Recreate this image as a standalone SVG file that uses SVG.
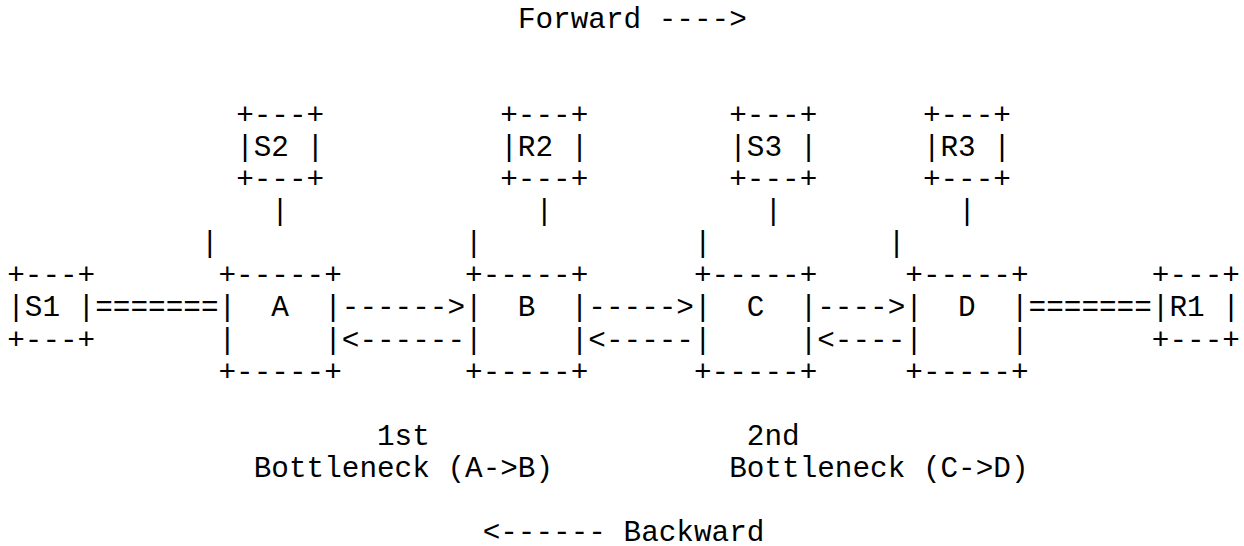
<svg xmlns="http://www.w3.org/2000/svg" width="1244" height="546" viewBox="0 0 1244 546" xml:space="preserve">
<style>
.t{font-family:"Liberation Mono","Courier New",monospace;font-size:29.35px;fill:#000;white-space:pre}
</style>
<rect width="1244" height="546" fill="#fff"/>
<g id="labels">
<text class="t" x="517.89" y="27.5">Forward ----&gt;</text>
<text class="t" x="377.01" y="444.8">1st</text>
<text class="t" x="253.74" y="476.9">Bottleneck (A-&gt;B)</text>
<text class="t" x="746.82" y="444.8">2nd</text>
<text class="t" x="729.21" y="476.9">Bottleneck (C-&gt;D)</text>
<text class="t" x="482.67" y="541.1">&lt;------ Backward</text>
</g>
<g id="S2"><text class="t"><tspan x="236.13" y="123.8">+---+</tspan><tspan x="236.13" y="155.9">|S2 |</tspan><tspan x="236.13" y="188">+---+</tspan></text></g>
<g id="R2"><text class="t"><tspan x="500.28" y="123.8">+---+</tspan><tspan x="500.28" y="155.9">|R2 |</tspan><tspan x="500.28" y="188">+---+</tspan></text></g>
<g id="S3"><text class="t"><tspan x="729.21" y="123.8">+---+</tspan><tspan x="729.21" y="155.9">|S3 |</tspan><tspan x="729.21" y="188">+---+</tspan></text></g>
<g id="R3"><text class="t"><tspan x="922.92" y="123.8">+---+</tspan><tspan x="922.92" y="155.9">|R3 |</tspan><tspan x="922.92" y="188">+---+</tspan></text></g>
<g id="S1"><text class="t"><tspan x="7.2" y="284.3">+---+</tspan><tspan x="7.2" y="316.4">|S1 |</tspan><tspan x="7.2" y="348.5">+---+</tspan></text></g>
<g id="R1"><text class="t"><tspan x="1151.85" y="284.3">+---+</tspan><tspan x="1151.85" y="316.4">|R1 |</tspan><tspan x="1151.85" y="348.5">+---+</tspan></text></g>
<g id="A"><text class="t"><tspan x="218.52" y="284.3">+-----+</tspan><tspan x="218.52" y="316.4">|  A  |</tspan><tspan x="218.52" y="348.5">|     |</tspan><tspan x="218.52" y="380.6">+-----+</tspan></text></g>
<g id="B"><text class="t"><tspan x="465.06" y="284.3">+-----+</tspan><tspan x="465.06" y="316.4">|  B  |</tspan><tspan x="465.06" y="348.5">|     |</tspan><tspan x="465.06" y="380.6">+-----+</tspan></text></g>
<g id="C"><text class="t"><tspan x="693.99" y="284.3">+-----+</tspan><tspan x="693.99" y="316.4">|  C  |</tspan><tspan x="693.99" y="348.5">|     |</tspan><tspan x="693.99" y="380.6">+-----+</tspan></text></g>
<g id="D"><text class="t"><tspan x="905.31" y="284.3">+-----+</tspan><tspan x="905.31" y="316.4">|  D  |</tspan><tspan x="905.31" y="348.5">|     |</tspan><tspan x="905.31" y="380.6">+-----+</tspan></text></g>
<g id="connectors">
<text class="t" x="271.35" y="220.1">|</text>
<text class="t" x="535.5" y="220.1">|</text>
<text class="t" x="764.43" y="220.1">|</text>
<text class="t" x="958.14" y="220.1">|</text>
<text class="t" x="200.91" y="252.2">|</text>
<text class="t" x="465.06" y="252.2">|</text>
<text class="t" x="693.99" y="252.2">|</text>
<text class="t" x="887.7" y="252.2">|</text>
<text class="t" x="95.25" y="316.4">=======</text>
<text class="t" x="341.79" y="316.4">------&gt;</text>
<text class="t" x="588.33" y="316.4">-----&gt;</text>
<text class="t" x="817.26" y="316.4">----&gt;</text>
<text class="t" x="1028.58" y="316.4">=======</text>
<text class="t" x="341.79" y="348.5">&lt;------</text>
<text class="t" x="588.33" y="348.5">&lt;-----</text>
<text class="t" x="817.26" y="348.5">&lt;----</text>
</g>
</svg>
